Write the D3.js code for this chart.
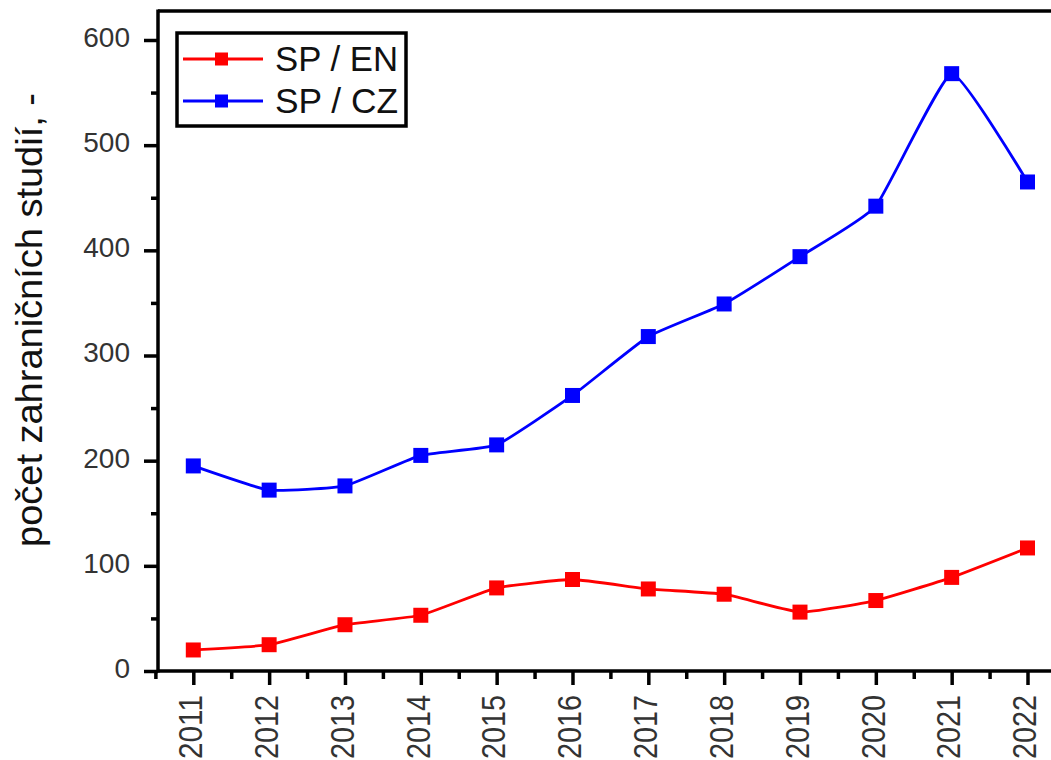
<!DOCTYPE html>
<html>
<head>
<meta charset="utf-8">
<script src="https://cdn.jsdelivr.net/npm/d3@7"></script>
<style>
  html, body { margin: 0; padding: 0; background: #fff; }
  svg { display: block; }
  text { font-family: "Liberation Sans", Arial, sans-serif; }
</style>
</head>
<body>
<svg id="chart" width="1051" height="760"></svg>
<script>
// ---- data ----
const years = [2011, 2012, 2013, 2014, 2015, 2016, 2017, 2018, 2019, 2020, 2021, 2022];
const spEN = [20, 25, 44, 53, 79, 87, 78, 73, 56, 67, 89, 117];
const spCZ = [195, 172, 176, 205, 215, 262, 318, 349, 394, 442, 568, 465];
const yTicks = [0, 100, 200, 300, 400, 500, 600];
const yMinorTicks = [50, 150, 250, 350, 450, 550];
const xMinorTicks = [2010.5, 2011.5, 2012.5, 2013.5, 2014.5, 2015.5, 2016.5, 2017.5, 2018.5, 2019.5, 2020.5, 2021.5, 2022.5];
const seriesNames = ["SP / EN", "SP / CZ"];
const seriesColors = ["#ff0000", "#0000ff"];
const yTitle = "počet zahraničních studií, -";

// ---- layout ----
const W = 1051, H = 760;
const axisX = 158, axisY = 671, topY = 11;
const svg = d3.select("#chart");
svg.append("rect").attr("width", W).attr("height", H).attr("fill", "#fff");

const x = d3.scaleLinear().domain([2011, 2022]).range([193.3, 1027.5]);
const y = d3.scaleLinear().domain([0, 600]).range([671, 40]);

// y axis (major + minor ticks)
const gyMinor = svg.append("g").attr("transform", `translate(${axisX},0)`)
  .call(d3.axisLeft(y).tickValues(yMinorTicks).tickSize(7).tickFormat(""));
const gy = svg.append("g").attr("transform", `translate(${axisX},0)`)
  .call(d3.axisLeft(y).tickValues(yTicks).tickSize(14).tickPadding(14).tickFormat(d3.format("d")));
[gy, gyMinor].forEach(g => {
  g.select(".domain").remove();
  g.selectAll(".tick line").attr("stroke", "#000").attr("stroke-width", 3.5);
});
gy.selectAll(".tick text")
  .attr("font-size", 28).attr("fill", "#333").attr("dy", "0.23em")
  .style("font-family", "'Liberation Sans', Arial, sans-serif");

// x axis (major + minor ticks)
const gxMinor = svg.append("g").attr("transform", `translate(0,${axisY})`)
  .call(d3.axisBottom(x).tickValues(xMinorTicks).tickSize(8).tickFormat(""));
const gx = svg.append("g").attr("transform", `translate(0,${axisY})`)
  .call(d3.axisBottom(x).tickValues(years).tickSize(14).tickFormat(""));
[gx, gxMinor].forEach(g => {
  g.select(".domain").remove();
  g.selectAll(".tick line").attr("stroke", "#000").attr("stroke-width", 3.5);
});
// rotated year labels
svg.append("g").selectAll("text").data(years).join("text")
  .attr("transform", d => `translate(${x(d) + 8.7},695) rotate(-90)`)
  .attr("text-anchor", "end")
  .attr("font-size", 33)
  .attr("fill", "#333")
  .attr("textLength", 64)
  .attr("lengthAdjust", "spacingAndGlyphs")
  .text(d => d);

// frame lines
svg.append("line").attr("x1", axisX).attr("x2", axisX).attr("y1", topY - 1.5).attr("y2", axisY + 1.5)
  .attr("stroke", "#000").attr("stroke-width", 3.5);
svg.append("line").attr("x1", axisX).attr("x2", W).attr("y1", axisY).attr("y2", axisY)
  .attr("stroke", "#000").attr("stroke-width", 3.5);
svg.append("line").attr("x1", axisX).attr("x2", W).attr("y1", topY).attr("y2", topY)
  .attr("stroke", "#000").attr("stroke-width", 3.5);

// y title
svg.append("text")
  .attr("transform", "translate(42,320) rotate(-90)")
  .attr("text-anchor", "middle")
  .attr("font-size", 36)
  .attr("fill", "#111")
  .attr("textLength", 454)
  .attr("lengthAdjust", "spacingAndGlyphs")
  .text(yTitle);

// series
const line = d3.line().x((d, i) => x(years[i])).y(d => y(d)).curve(d3.curveCardinal.tension(0.6));
const square = d3.symbol().type(d3.symbolSquare).size(15 * 15);
[spEN, spCZ].forEach((vals, k) => {
  svg.append("path").datum(vals).attr("d", line)
    .attr("fill", "none").attr("stroke", seriesColors[k]).attr("stroke-width", 2.8);
  svg.append("g").selectAll("path").data(vals).join("path")
    .attr("transform", (d, i) => `translate(${x(years[i])},${y(d)})`)
    .attr("d", square).attr("fill", seriesColors[k]);
});

// legend
const lg = svg.append("g");
lg.append("rect").attr("x", 177).attr("y", 33).attr("width", 229).attr("height", 93)
  .attr("fill", "#fff").attr("stroke", "#000").attr("stroke-width", 3.5);
const legendRows = [59, 101];
seriesNames.forEach((name, k) => {
  const ry = legendRows[k];
  lg.append("line").attr("x1", 183).attr("x2", 263).attr("y1", ry).attr("y2", ry)
    .attr("stroke", seriesColors[k]).attr("stroke-width", 2.8);
  lg.append("path").attr("transform", `translate(221.5,${ry})`)
    .attr("d", d3.symbol().type(d3.symbolSquare).size(13 * 13)).attr("fill", seriesColors[k]);
  lg.append("text").attr("x", 275).attr("y", ry + 12)
    .attr("font-size", 35).attr("fill", "#111")
    .attr("textLength", 123).attr("lengthAdjust", "spacingAndGlyphs")
    .text(name);
});
</script>
</body>
</html>
